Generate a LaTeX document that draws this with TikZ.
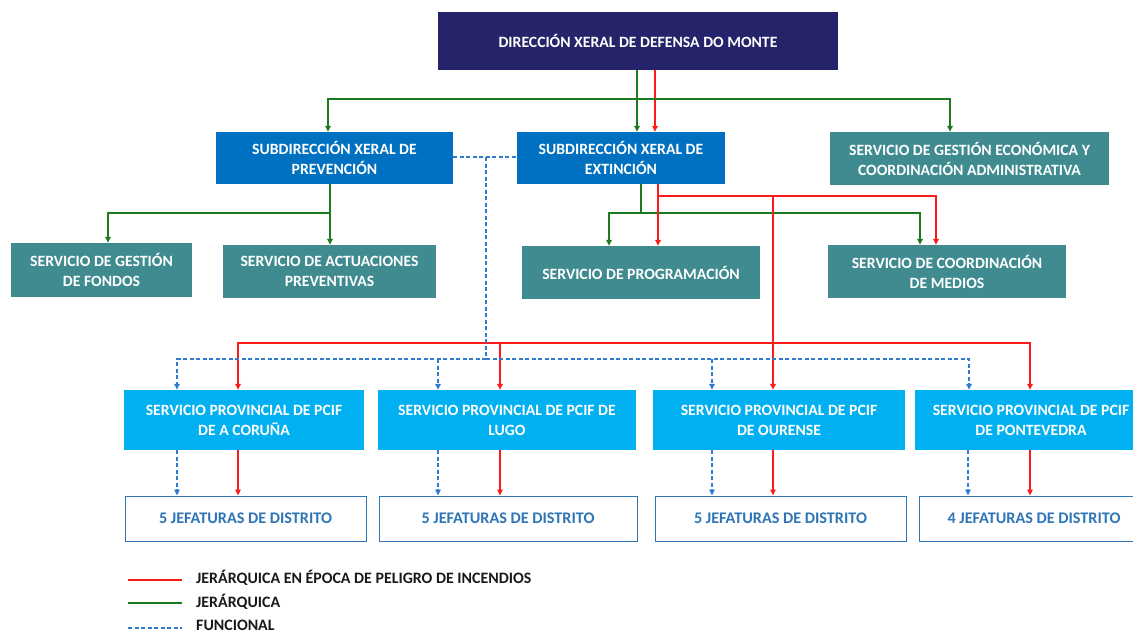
\documentclass[tikz,border=0pt]{standalone}
\usepackage{fontspec}
\setmainfont{Carlito}
\usetikzlibrary{arrows.meta,calc}
\definecolor{navy}{HTML}{25246A}
\definecolor{subblue}{HTML}{0070C0}
\definecolor{teal2}{HTML}{3F8B8F}
\definecolor{light}{HTML}{00B0F0}
\definecolor{jblue}{HTML}{2E75B6}
\definecolor{gline}{HTML}{1E7A1E}
\definecolor{rline}{HTML}{FF1A1A}
\definecolor{bline}{HTML}{2E7BD0}
\tikzset{
  x=1pt,y=-1pt,
  box/.style={draw=none,align=center,inner sep=0pt,text=white,font=\bfseries\fontsize{15.7}{20}\selectfont},
  jef/.style={draw=jblue,line width=1pt,fill=white,align=center,inner sep=0pt,text=jblue,font=\bfseries\fontsize{16.2}{20}\selectfont},
  tip/.style={-{Triangle[length=6pt,width=5.5pt]}},
  gr/.style={draw=gline,line width=2.2pt},
  rd/.style={draw=rline,line width=2.2pt},
  bl/.style={draw=bline,line width=1.8pt,dash pattern=on 4pt off 2.5pt},
}
\begin{document}
\begin{tikzpicture}
\useasboundingbox (0,0) rectangle (1133,634);
% nodes
\node[box,fill=navy,minimum width=400,minimum height=58] (top) at (638,41) {DIRECCIÓN XERAL DE DEFENSA DO MONTE};
\node[box,fill=subblue,minimum width=237,minimum height=52] (prev) at (334.5,158) {SUBDIRECCIÓN XERAL DE\\PREVENCIÓN};
\node[box,fill=subblue,minimum width=208,minimum height=52] (ext) at (621,158) {SUBDIRECCIÓN XERAL DE\\EXTINCIÓN};
\node[box,fill=teal2,minimum width=279,minimum height=53] (econ) at (969.5,158.5) {SERVICIO DE GESTIÓN ECONÓMICA Y\\COORDINACIÓN ADMINISTRATIVA};
\node[box,fill=teal2,minimum width=181,minimum height=54] (fond) at (101.5,270) {SERVICIO DE GESTIÓN\\DE FONDOS};
\node[box,fill=teal2,minimum width=213,minimum height=53] (act) at (329.5,271.5) {SERVICIO DE ACTUACIONES\\PREVENTIVAS};
\node[box,fill=teal2,minimum width=238,minimum height=53] (prog) at (641,272.5) {SERVICIO DE PROGRAMACIÓN};
\node[box,fill=teal2,minimum width=238,minimum height=53] (coord) at (947,271.5) {SERVICIO DE COORDINACIÓN\\DE MEDIOS};
\node[box,fill=light,minimum width=240,minimum height=60] (pc) at (244,420) {SERVICIO PROVINCIAL DE PCIF\\DE A CORUÑA};
\node[box,fill=light,minimum width=258,minimum height=60] (pl) at (507,420) {SERVICIO PROVINCIAL DE PCIF DE\\LUGO};
\node[box,fill=light,minimum width=252,minimum height=60] (po) at (779,420) {SERVICIO PROVINCIAL DE PCIF\\DE OURENSE};
\node[box,fill=light,minimum width=232,minimum height=60] (pp) at (1031,420) {SERVICIO PROVINCIAL DE PCIF\\DE PONTEVEDRA};
\node[jef,minimum width=241,minimum height=45] (jc) at (245.5,518.5) {5 JEFATURAS DE DISTRITO};
\node[jef,minimum width=258,minimum height=45] (jl) at (508,518.5) {5 JEFATURAS DE DISTRITO};
\node[jef,minimum width=251,minimum height=45] (jo) at (780.5,518.5) {5 JEFATURAS DE DISTRITO};
\node[jef,minimum width=230,minimum height=45] (jp) at (1034,518.5) {4 JEFATURAS DE DISTRITO};
% top level
\coordinate (g0) at (637,99);
\draw[gr,tip] (637,0 |- top.south) -- (637,0 |- ext.north);
\draw[rd,tip] (655,0 |- top.south) -- (655,0 |- ext.north);
\draw[gr,tip] (g0) -- (328,99) -- (328,0 |- prev.north);
\draw[gr,tip] (g0) -- (950,99) -- (950,0 |- econ.north);
% prevention branch
\coordinate (g1) at (330,213);
\draw[gr] (330,0 |- prev.south) -- (g1);
\draw[gr,tip] (g1) -- (108,213) -- (108,0 |- fond.north);
\draw[gr,tip] (g1) -- (330,0 |- act.north);
% extinction branch green
\coordinate (g2) at (641,213);
\draw[gr] (641,0 |- ext.south) -- (g2);
\draw[gr,tip] (g2) -- (609,213) -- (609,0 |- prog.north);
\draw[gr,tip] (g2) -- (920,213) -- (920,0 |- coord.north);
% extinction branch red
\coordinate (r1) at (658,196);
\draw[rd,tip] (658,0 |- ext.south) -- (658,0 |- prog.north);
\draw[rd,tip] (r1) -- (936,196) -- (936,0 |- coord.north);
\coordinate (r2) at (773,343);
\draw[rd] (773,196) -- (r2);
\draw[rd,tip] (r2) -- (238,343) -- (238,0 |- pc.north);
\draw[rd,tip] (500,343) -- (500,0 |- pl.north);
\draw[rd,tip] (r2) -- (773,0 |- po.north);
\draw[rd,tip] (r2) -- (1030,343) -- (1030,0 |- pp.north);
% functional
\coordinate (b1) at (486,157);
\coordinate (b2) at (486,359);
\draw[bl] (prev.east |- b1) -- (ext.west |- b1);
\draw[bl] (b1) -- (b2);
\draw[bl,tip] (b2) -- (177,359) -- (177,0 |- pc.north);
\draw[bl,tip] (438,359) -- (438,0 |- pl.north);
\draw[bl,tip] (712,359) -- (712,0 |- po.north);
\draw[bl,tip] (b2) -- (969,359) -- (969,0 |- pp.north);
% provincial to jefaturas
\draw[bl,tip] (177,0 |- pc.south) -- (177,0 |- jc.north);
\draw[rd,tip] (238,0 |- pc.south) -- (238,0 |- jc.north);
\draw[bl,tip] (438,0 |- pl.south) -- (438,0 |- jl.north);
\draw[rd,tip] (500,0 |- pl.south) -- (500,0 |- jl.north);
\draw[bl,tip] (712,0 |- po.south) -- (712,0 |- jo.north);
\draw[rd,tip] (773,0 |- po.south) -- (773,0 |- jo.north);
\draw[bl,tip] (968,0 |- pp.south) -- (968,0 |- jp.north);
\draw[rd,tip] (1030,0 |- pp.south) -- (1030,0 |- jp.north);
% legend
\coordinate (l1) at (128,580);
\coordinate (l2) at (128,603);
\coordinate (l3) at (128,628);
\draw[rd,line width=2pt] (l1) -- ++(54,0);
\draw[gr,line width=2pt] (l2) -- ++(54,0);
\draw[bl,line width=1.8pt] (l3) -- ++(54,0);
\tikzset{leg/.style={anchor=west,inner sep=0pt,text=black!90,font=\bfseries\fontsize{15.9}{18}\selectfont}}
\node[leg] (t1) at (196,578) {JERÁRQUICA EN ÉPOCA DE PELIGRO DE INCENDIOS};
\node[leg] (t2) at (196,602) {JERÁRQUICA};
\node[leg] (t3) at (196,625.5) {FUNCIONAL};
\end{tikzpicture}
\end{document}
